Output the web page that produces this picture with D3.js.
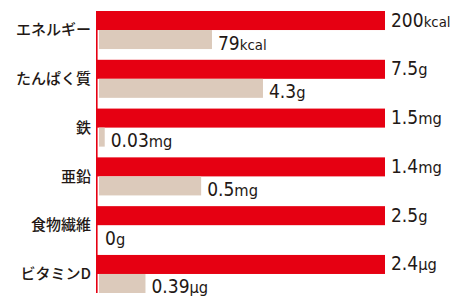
<!DOCTYPE html>
<html>
<head>
<meta charset="utf-8">
<script src="https://cdn.jsdelivr.net/npm/d3@7"></script>
<style>
  body { margin: 0; background: #fff; }
  .cat { font-family: "Noto Sans CJK JP", sans-serif; font-size: 15px; font-weight: 500; fill: #231815; }
  .val { font-family: "DejaVu Sans Condensed", "DejaVu Sans", sans-serif; font-stretch: condensed; font-size: 19px; fill: #231815; }
</style>
</head>
<body>
<svg id="chart" width="454" height="300"></svg>
<script>
// nutrition per serving vs. daily target
var categories = ["エネルギー", "たんぱく質", "鉄", "亜鉛", "食物繊維", "ビタミンD"];
var targets = [200, 7.5, 1.5, 1.4, 2.5, 2.4];
var actuals = [79, 4.3, 0.03, 0.5, 0, 0.39];
var targetLabels = ["200", "7.5", "1.5", "1.4", "2.5", "2.4"];
var actualLabels = ["79", "4.3", "0.03", "0.5", "0", "0.39"];
var units = ["kcal", "g", "mg", "mg", "g", "μg"];

var red = "#e60012", beige = "#dccabb";

var svg = d3.select("#chart");

var x = d3.scaleLinear().domain([0, 1]).range([99, 385]);
var y = d3.scaleBand().domain(categories).range([11, 293]).paddingInner(0.22);
var half = y.bandwidth() / 2;

var rows = svg.selectAll(".row")
  .data(categories)
  .enter()
  .append("g")
  .attr("class", "row")
  .attr("transform", d => "translate(0," + y(d) + ")");

// target bar (always full)
rows.append("rect")
  .attr("x", x(0) - 2)
  .attr("y", 0)
  .attr("width", x(1) - x(0) + 2)
  .attr("height", half)
  .attr("fill", red);

// actual bar
rows.append("rect")
  .attr("x", x(0))
  .attr("y", half)
  .attr("width", (d, i) => x(actuals[i] / targets[i]) - x(0))
  .attr("height", half)
  .attr("fill", beige);

rows.append("text")
  .attr("class", "cat")
  .attr("x", 91)
  .attr("y", half)
  .attr("dy", "0.35em")
  .attr("text-anchor", "end")
  .text(d => d);

function unitSize(u) { return u == "kcal" ? "0.78em" : "0.86em"; }

var tv = rows.append("text")
  .attr("class", "val")
  .attr("x", x(1) + 6)
  .attr("y", 15.5);
tv.append("tspan").text((d, i) => targetLabels[i]);
tv.append("tspan").attr("font-size", (d, i) => unitSize(units[i])).text((d, i) => units[i]);

var av = rows.append("text")
  .attr("class", "val")
  .attr("x", (d, i) => x(actuals[i] / targets[i]) + 6)
  .attr("y", 38.5);
av.append("tspan").text((d, i) => actualLabels[i]);
av.append("tspan").attr("font-size", (d, i) => unitSize(units[i])).text((d, i) => units[i]);

// axis line
svg.append("line")
  .attr("x1", 96.8).attr("x2", 96.8)
  .attr("y1", y.range()[0]).attr("y2", y.range()[1])
  .attr("stroke", red)
  .attr("stroke-width", 1.6);
</script>
</body>
</html>
